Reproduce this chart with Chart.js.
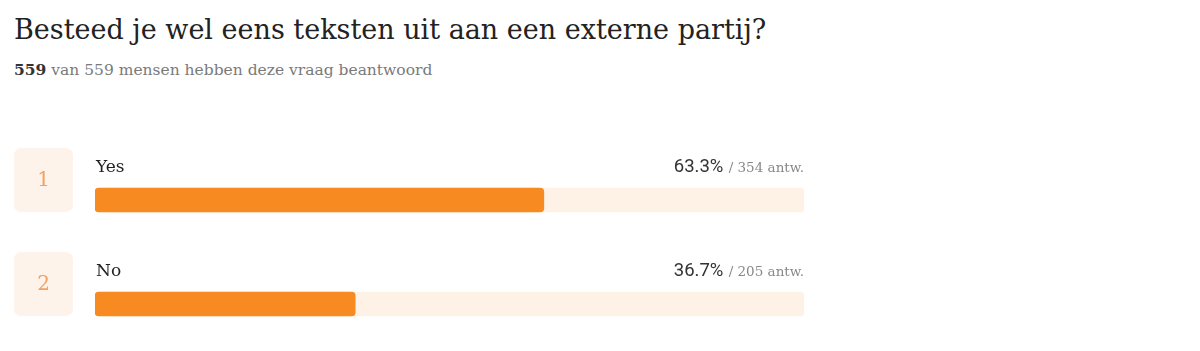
<!DOCTYPE html>
<html>
<head>
<meta charset="utf-8">
<script src="https://cdn.jsdelivr.net/npm/chart.js@4.4.1/dist/chart.umd.min.js"></script>
<style>
  html, body { margin: 0; padding: 0; width: 1200px; height: 351px; overflow: hidden; background: #fff; }
  #title { position: absolute; left: 14px; top: 16px; margin: 0; font: 400 27px/1 "DejaVu Serif", serif; color: #222; white-space: nowrap; }
  #sub { position: absolute; left: 14px; top: 62px; margin: 0; font: 400 15.5px/1 "DejaVu Serif", serif; color: #7a7a7a; white-space: nowrap; }
  #sub b { color: #333; font-weight: 700; }
  #wrap { position: absolute; left: 0; top: 0; width: 1200px; height: 360px; }
</style>
</head>
<body>
<h1 id="title">Besteed je wel eens teksten uit aan een externe partij?</h1>
<p id="sub"><b>559</b> van 559 mensen hebben deze vraag beantwoord</p>
<div id="wrap"><canvas id="myChart"></canvas></div>
<script>
// Data
const antwoorden = ['Yes', 'No']
const procenten = [63.3, 36.7]
const aantallen = [354, 205]
const totaal = [100, 100]

const oranje = '#f78b22'
const licht = '#fef1e6'

// Badges en teksten rond de balken
const rijPlugin = {
  id: 'rijen',
  beforeDatasetsDraw(chart) {
    const ctx = chart.ctx
    const meta = chart.getDatasetMeta(0)
    ctx.save()
    meta.data.forEach((bar, i) => {
      const top = bar.y - 52
      ctx.fillStyle = '#fef3ea'
      ctx.beginPath()
      ctx.roundRect(14, top, 59, 64, 7)
      ctx.fill()
      ctx.fillStyle = '#f0a262'
      ctx.font = '400 20px "DejaVu Serif", serif'
      ctx.textAlign = 'center'
      ctx.textBaseline = 'middle'
      ctx.fillText(String(i + 1), 43.5, top + 33)
    })
    ctx.restore()
  },
  afterDatasetsDraw(chart) {
    const ctx = chart.ctx
    const area = chart.chartArea
    const meta = chart.getDatasetMeta(0)
    ctx.save()
    ctx.textBaseline = 'alphabetic'
    meta.data.forEach((bar, i) => {
      const base = bar.y - 28
      ctx.textAlign = 'left'
      ctx.fillStyle = '#222'
      ctx.font = '400 17px "DejaVu Serif", serif'
      ctx.fillText(antwoorden[i], area.left + 1, base)

      ctx.textAlign = 'right'
      ctx.fillStyle = '#888'
      ctx.font = '400 13.5px "DejaVu Serif", serif'
      const rest = ' / ' + aantallen[i] + ' antw.'
      ctx.fillText(rest, area.right, base)
      const w = ctx.measureText(rest).width
      ctx.fillStyle = '#333'
      ctx.font = '400 18.5px Roboto, sans-serif'
      ctx.fillText(procenten[i].toFixed(1) + '%', area.right - w - 1, base)
    })
    ctx.restore()
  }
}

const grafiek = new Chart(document.getElementById('myChart'), {
  type: 'bar',
  data: {
    labels: antwoorden,
    datasets: [{
      label: 'Percentage',
      data: procenten,
      backgroundColor: oranje,
      borderRadius: 4,
      borderSkipped: false,
      barThickness: 24,
      grouped: false,
      order: 1
    }, {
      label: 'Totaal',
      data: totaal,
      backgroundColor: licht,
      borderRadius: 4,
      borderSkipped: false,
      barThickness: 24,
      grouped: false,
      order: 2
    }]
  },
  options: {
    indexAxis: 'y',
    responsive: true,
    maintainAspectRatio: false,
    animation: false,
    layout: { padding: { left: 95, right: 396, top: 148, bottom: 4 } },
    scales: {
      x: { display: false, min: 0, max: 100 },
      y: { display: false }
    },
    plugins: {
      legend: { display: false },
      tooltip: { enabled: false }
    }
  },
  plugins: [rijPlugin]
})
</script>
</body>
</html>
